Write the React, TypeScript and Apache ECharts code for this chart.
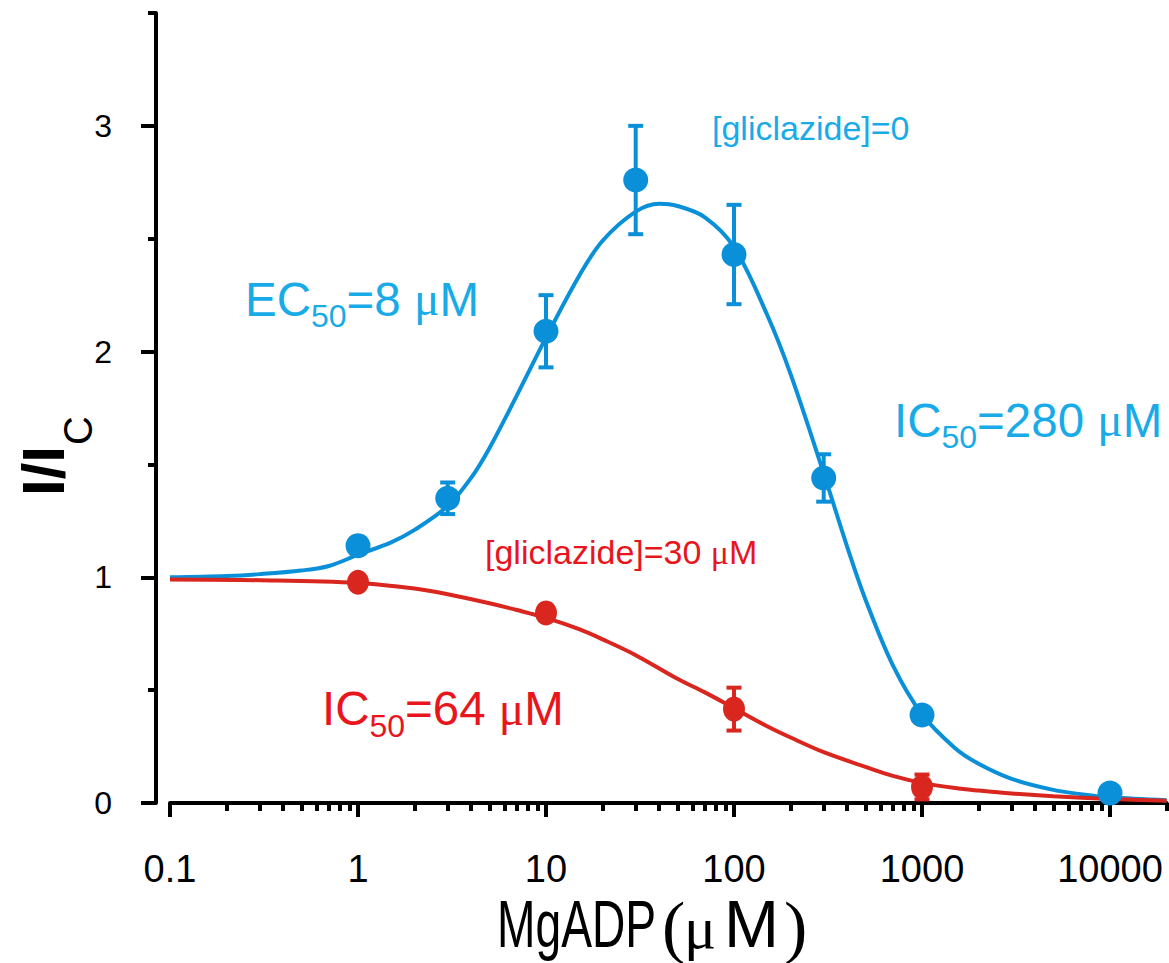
import React, { useEffect, useRef } from 'react';
import * as echarts from 'echarts';

// Axis ticks
const xTickValues = [0.1, 1, 10, 100, 1000, 10000];
const xMinorTicks = [
  0.2, 0.3, 0.4, 0.5, 0.6, 0.7, 0.8, 0.9,
  2, 3, 4, 5, 6, 7, 8, 9,
  20, 30, 40, 50, 60, 70, 80, 90,
  200, 300, 400, 500, 600, 700, 800, 900,
  2000, 3000, 4000, 5000, 6000, 7000, 8000, 9000,
  20000,
];
const yTickValues = [0, 1, 2, 3];
const yMinorTicks = [0.5, 1.5, 2.5, 3.5];

// [gliclazide]=0 data (mean, error)
const ctrlX = [1, 3, 10, 30, 100, 300, 1000, 10000];
const ctrlY = [1.14, 1.35, 2.09, 2.76, 2.43, 1.44, 0.39, 0.044];
const ctrlErr = [0.02, 0.07, 0.16, 0.24, 0.22, 0.105, 0, 0];

// [gliclazide]=30 µM data
const glicX = [1, 10, 100, 1000];
const glicY = [0.978, 0.842, 0.416, 0.071];
const glicErr = [0, 0, 0.095, 0.055];

// fitted curves
const ctrlFitX = [0.1, 0.2, 0.3, 0.5, 0.7, 1, 1.5, 2, 3, 4, 5, 7, 10, 15, 20, 30, 40, 50, 70, 100, 150, 200, 300, 400, 500, 700, 1000, 1500, 2000, 3000, 5000, 7000, 10000, 20000];
const ctrlFitY = [1.0, 1.006, 1.014, 1.03, 1.05, 1.1, 1.155, 1.21, 1.316, 1.441, 1.572, 1.806, 2.062, 2.335, 2.491, 2.62, 2.655, 2.645, 2.595, 2.463, 2.163, 1.9, 1.46, 1.135, 0.902, 0.61, 0.393, 0.243, 0.174, 0.107, 0.058, 0.039, 0.025, 0.012];
const glicFitX = [0.1, 0.3, 1, 2, 3, 5, 7, 10, 15, 20, 30, 50, 70, 100, 150, 200, 300, 500, 700, 1000, 1500, 2000, 3000, 5000, 10000, 20000];
const glicFitY = [0.99, 0.987, 0.975, 0.95, 0.925, 0.885, 0.855, 0.82, 0.77, 0.725, 0.655, 0.55, 0.49, 0.42, 0.34, 0.29, 0.225, 0.16, 0.12, 0.089, 0.066, 0.055, 0.042, 0.03, 0.018, 0.01];

const BLUE = '#0A90D8';
const BLUE_TEXT = '#19ABE8';
const RED = '#D9261E';
const RED_TEXT = '#E8161C';
const SANS = 'Liberation Sans';
const SERIF = 'Liberation Serif';

let measureCtx: CanvasRenderingContext2D | null = null;
function measure(text: string, size: number, family: string, weight = 'normal') {
  if (!measureCtx) measureCtx = document.createElement('canvas').getContext('2d');
  if (!measureCtx) return text.length * size * 0.55;
  measureCtx.font = `${weight} ${size}px "${family}"`;
  return measureCtx.measureText(text).width;
}

function zip(a: number[], b: number[], c?: number[]) {
  return a.map((v, i) => (c ? [v, b[i], c[i]] : [v, b[i]]));
}

function errRender(color: string) {
  return (params: any, api: any) => {
    const x = api.value(0);
    const y = api.value(1);
    const e = api.value(2);
    if (!e) return null;
    const top = api.coord([x, y + e]);
    const bot = api.coord([x, y - e]);
    const hw = 7.5;
    const st = { stroke: color, lineWidth: 4 };
    return {
      type: 'group',
      children: [
        { type: 'line', shape: { x1: top[0], y1: top[1], x2: bot[0], y2: bot[1] }, style: st },
        { type: 'line', shape: { x1: top[0] - hw, y1: top[1], x2: top[0] + hw, y2: top[1] }, style: st },
        { type: 'line', shape: { x1: bot[0] - hw, y1: bot[1], x2: bot[0] + hw, y2: bot[1] }, style: st },
      ],
    };
  };
}

type Piece = { t: string; size: number; fam: string; dy?: number; weight?: string };

function textRow(x0: number, y: number, pieces: Piece[], color: string) {
  let cx = x0;
  const children = pieces.map((p) => {
    const el = {
      type: 'text',
      x: cx,
      y: y + (p.dy || 0),
      style: {
        text: p.t,
        fontSize: p.size,
        fontFamily: p.fam,
        fontWeight: p.weight || 'normal',
        fill: color,
        textAlign: 'left',
        textVerticalAlign: 'middle',
      },
    };
    cx += measure(p.t, p.size, p.fam, p.weight || 'normal');
    return el;
  });
  return { type: 'group', z: 10, children };
}

function subLabel(x: number, capCenter: number, main: string, rest: string, color: string) {
  const F = 47.5;
  const S = 32;
  return textRow(
    x,
    capCenter,
    [
      { t: main, size: F, fam: SANS },
      { t: '50', size: S, fam: SANS, dy: 17 },
      { t: rest, size: F, fam: SANS },
      { t: 'μ', size: F, fam: SERIF },
      { t: 'M', size: F, fam: SANS },
    ],
    color
  );
}

export default function App() {
  const ref = useRef<HTMLDivElement>(null);

  useEffect(() => {
    if (!ref.current) return;
    const chart = echarts.init(ref.current, undefined, { renderer: 'svg' });
    const axisLineStyle = { color: '#000', width: 4 };
    const iiWidth = measure('I/I', 60, SANS, 'bold');
    const option: any = {
      animation: false,
      backgroundColor: '#fff',
      textStyle: { fontFamily: SANS },
      grid: { left: 170, right: 2.4, top: 13, bottom: 160, containLabel: false },
      xAxis: [
        {
          type: 'log',
          logBase: 10,
          min: 0.1,
          max: 20000,
          position: 'bottom',
          axisLine: { show: true, onZero: false, lineStyle: axisLineStyle },
          axisTick: { show: true, customValues: xTickValues, length: 14, lineStyle: { color: '#000', width: 4 } },
          axisLabel: {
            customValues: xTickValues,
            fontSize: 38,
            color: '#000',
            margin: 47,
            fontFamily: SANS,
            formatter: (v: number) => String(+Number(v).toPrecision(6)),
          },
          splitLine: { show: false },
          minorTick: { show: false },
        },
        {
          type: 'log',
          logBase: 10,
          min: 0.1,
          max: 20000,
          position: 'bottom',
          axisLine: { show: false },
          axisTick: { show: true, customValues: xMinorTicks, length: 8, lineStyle: { color: '#000', width: 4 } },
          axisLabel: { show: false },
          splitLine: { show: false },
        },
      ],
      yAxis: [
        {
          type: 'value',
          min: 0,
          max: 3.5,
          offset: 14,
          position: 'left',
          axisLine: { show: true, onZero: false, lineStyle: axisLineStyle },
          axisTick: { show: true, customValues: yTickValues, length: 15, lineStyle: { color: '#000', width: 4 } },
          axisLabel: { customValues: yTickValues, fontSize: 32, color: '#000', margin: 44, fontFamily: SANS },
          splitLine: { show: false },
        },
        {
          type: 'value',
          min: 0,
          max: 3.5,
          offset: 14,
          position: 'left',
          axisLine: { show: false },
          axisTick: { show: true, customValues: yMinorTicks, length: 8, lineStyle: { color: '#000', width: 4 } },
          axisLabel: { show: false },
          splitLine: { show: false },
        },
      ],
      series: [
        {
          type: 'line',
          data: zip(ctrlFitX, ctrlFitY),
          showSymbol: false,
          smooth: 0.35,
          lineStyle: { color: BLUE, width: 4 },
          z: 3,
        },
        {
          type: 'line',
          data: zip(glicFitX, glicFitY),
          showSymbol: false,
          smooth: 0.35,
          lineStyle: { color: RED, width: 4 },
          z: 3,
        },
        {
          type: 'custom',
          coordinateSystem: 'cartesian2d',
          data: zip(ctrlX, ctrlY, ctrlErr),
          encode: { x: 0, y: 1 },
          renderItem: errRender(BLUE),
          z: 4,
        },
        {
          type: 'custom',
          coordinateSystem: 'cartesian2d',
          data: zip(glicX, glicY, glicErr),
          encode: { x: 0, y: 1 },
          renderItem: errRender(RED),
          z: 4,
        },
        {
          type: 'scatter',
          data: zip(ctrlX, ctrlY),
          symbol: 'circle',
          symbolSize: 25,
          itemStyle: { color: BLUE, opacity: 1 },
          z: 5,
        },
        {
          type: 'scatter',
          data: zip(glicX, glicY),
          symbol: 'circle',
          symbolSize: [22, 25],
          itemStyle: { color: RED, opacity: 1 },
          z: 5,
        },
      ],
      graphic: [
        {
          type: 'text',
          x: 43,
          y: 496,
          rotation: Math.PI / 2,
          z: 10,
          style: {
            text: 'I/I',
            fontSize: 60,
            fontWeight: 'bold',
            fontFamily: SANS,
            fill: '#000',
            textAlign: 'left',
            textVerticalAlign: 'middle',
          },
        },
        {
          type: 'text',
          x: 78,
          y: 496 - iiWidth - 1,
          rotation: Math.PI / 2,
          z: 10,
          style: {
            text: 'C',
            fontSize: 40,
            fontFamily: SANS,
            fill: '#000',
            textAlign: 'left',
            textVerticalAlign: 'middle',
          },
        },
        // x axis title, pieces placed along the baseline
        { type: 'text', x: 497, y: 924, scaleX: 0.7, z: 10, style: { text: 'MgADP', fontSize: 66, fontFamily: SANS, fill: '#000', textAlign: 'left', textVerticalAlign: 'middle' } },
        { type: 'text', x: 662, y: 926, z: 10, style: { text: '(', fontSize: 70, fontFamily: SERIF, fill: '#000', textAlign: 'left', textVerticalAlign: 'middle' } },
        { type: 'text', x: 684, y: 928, z: 10, style: { text: 'μ', fontSize: 60, fontFamily: SERIF, fill: '#000', textAlign: 'left', textVerticalAlign: 'middle' } },
        { type: 'text', x: 724, y: 924, z: 10, style: { text: 'M', fontSize: 66, fontFamily: SANS, fill: '#000', textAlign: 'left', textVerticalAlign: 'middle' } },
        { type: 'text', x: 784, y: 926, z: 10, style: { text: ')', fontSize: 70, fontFamily: SERIF, fill: '#000', textAlign: 'left', textVerticalAlign: 'middle' } },
        {
          type: 'text',
          x: 712,
          y: 128,
          z: 10,
          style: {
            text: '[gliclazide]=0',
            fontSize: 34,
            fontFamily: SANS,
            fill: BLUE_TEXT,
            textAlign: 'left',
            textVerticalAlign: 'middle',
          },
        },
        textRow(
          485,
          552,
          [
            { t: '[gliclazide]=30 ', size: 34, fam: SANS },
            { t: 'μ', size: 34, fam: SERIF },
            { t: 'M', size: 34, fam: SANS },
          ],
          RED_TEXT
        ),
        subLabel(245, 299, 'EC', '=8 ', BLUE_TEXT),
        subLabel(894, 420, 'IC', '=280 ', BLUE_TEXT),
        subLabel(322, 708.5, 'IC', '=64 ', RED_TEXT),
      ],
    };
    chart.setOption(option);
    return () => chart.dispose();
  }, []);

  return (
    <div
      ref={ref}
      style={{ position: 'fixed', left: 0, top: 0, width: 1169, height: 963, background: '#fff' }}
    />
  );
}
